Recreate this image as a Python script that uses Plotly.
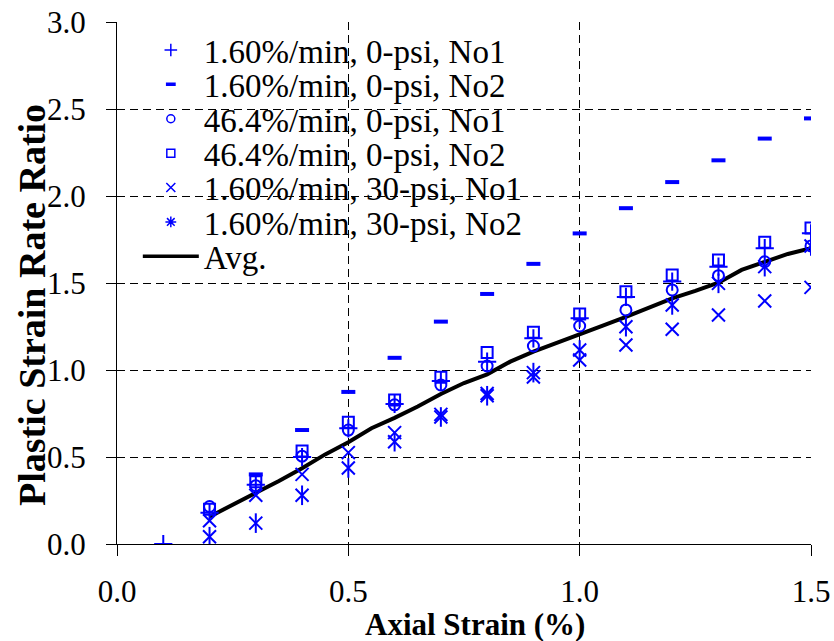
import plotly.graph_objects as go

# ---------------- data ----------------
x_plus = [0.1, 0.2, 0.3, 0.4, 0.5, 0.6, 0.7, 0.8, 0.9, 1.0, 1.1, 1.2, 1.3, 1.4, 1.5]
y_plus = [0.0, 0.18, 0.34, 0.50, 0.665, 0.805, 0.937, 1.048, 1.182, 1.297, 1.42, 1.508, 1.594, 1.70, 1.786]

x_dash = [0.3, 0.4, 0.5, 0.6, 0.7, 0.8, 0.9, 1.0, 1.1, 1.2, 1.3, 1.4, 1.5]
y_dash = [0.40, 0.655, 0.874, 1.07, 1.278, 1.437, 1.61, 1.785, 1.93, 2.08, 2.205, 2.33, 2.446]

x_std = [0.2, 0.3, 0.4, 0.5, 0.6, 0.7, 0.8, 0.9, 1.0, 1.1, 1.2, 1.3, 1.4, 1.5]
y_circle = [0.215, 0.335, 0.505, 0.655, 0.80, 0.914, 1.023, 1.138, 1.253, 1.345, 1.46, 1.542, 1.622, 1.713]
y_square = [0.20, 0.358, 0.534, 0.70, 0.828, 0.958, 1.10, 1.217, 1.322, 1.45, 1.546, 1.632, 1.734, 1.816]
y_x30 = [0.134, 0.28, 0.40, 0.525, 0.64, 0.745, 0.865, 0.96, 1.057, 1.144, 1.234, 1.316, 1.397, 1.475]
y_ast30 = [0.042, 0.12, 0.28, 0.437, 0.588, 0.73, 0.852, 0.985, 1.115, 1.249, 1.374, 1.498, 1.594, 1.713]

x_avg = [0.2, 0.25, 0.3, 0.35, 0.4, 0.45, 0.5, 0.55, 0.6, 0.65, 0.7, 0.75, 0.8, 0.85,
         0.9, 0.95, 1.0, 1.05, 1.1, 1.15, 1.2, 1.25, 1.3, 1.35, 1.4, 1.45, 1.5]
y_avg = [0.157, 0.225, 0.291, 0.362, 0.435, 0.515, 0.585, 0.665, 0.725, 0.79, 0.862, 0.925,
         0.975, 1.048, 1.105, 1.153, 1.205, 1.255, 1.306, 1.36, 1.412, 1.455, 1.502, 1.575,
         1.622, 1.667, 1.70]

names = ["1.60%/min, 0-psi, No1", "1.60%/min, 0-psi, No2", "46.4%/min, 0-psi, No1",
         "46.4%/min, 0-psi, No2", "1.60%/min, 30-psi, No1", "1.60%/min, 30-psi, No2", "Avg."]

x_ticks = [0.0, 0.5, 1.0, 1.5]
x_ticklabels = ["0.0", "0.5", "1.0", "1.5"]
y_ticks = [0.0, 0.5, 1.0, 1.5, 2.0, 2.5, 3.0]
y_ticklabels = ["0.0", "0.5", "1.0", "1.5", "2.0", "2.5", "3.0"]

x_title = "Axial Strain (%)"
y_title = "Plastic Strain Rate Ratio"

BLUE = "#0000FF"
FONT = "Liberation Serif"

fig = go.Figure()

def mk(symbol, size, lw=2):
    return dict(symbol=symbol, size=size, color=BLUE, line=dict(color=BLUE, width=lw))

# data traces (no legend)
fig.add_trace(go.Scatter(x=x_avg, y=y_avg, mode="lines", line=dict(color="black", width=4),
                         showlegend=False, hoverinfo="skip"))
fig.add_trace(go.Scatter(x=x_plus, y=y_plus, mode="markers", marker=mk("cross-thin-open", 13), showlegend=False))
fig.add_trace(go.Scatter(x=x_dash, y=y_dash, mode="markers", marker=mk("line-ew-open", 10, 4), showlegend=False))
fig.add_trace(go.Scatter(x=x_std, y=y_circle, mode="markers", marker=mk("circle-open", 11), showlegend=False))
fig.add_trace(go.Scatter(x=x_std, y=y_square, mode="markers", marker=mk("square-open", 11), showlegend=False))
fig.add_trace(go.Scatter(x=x_std, y=y_x30, mode="markers", marker=mk("x-thin-open", 13), showlegend=False))
fig.add_trace(go.Scatter(x=x_std, y=y_ast30, mode="markers", marker=mk("x-thin-open", 13), showlegend=False))
fig.add_trace(go.Scatter(x=x_std, y=y_ast30, mode="markers", marker=mk("line-ns-open", 14), showlegend=False))

# legend entries, one small legend per row so the row spacing can match
leg_markers = [mk("cross-thin-open", 9, 1.5), mk("line-ew-open", 7, 3.5), mk("circle-open", 8, 1.5),
               mk("square-open", 8, 1.5), mk("x-thin-open", 9, 1.5), mk("asterisk-open", 9, 1.5)]
legend_layouts = {}
plot_top, plot_h = 22, 522
for i, nm in enumerate(names):
    key = "legend" if i == 0 else f"legend{i + 1}"
    if i < 6:
        tr = go.Scatter(x=[None], y=[None], mode="markers", marker=leg_markers[i], name=nm,
                        legend=key)
    else:
        tr = go.Scatter(x=[None], y=[None], mode="lines", line=dict(color="black", width=3.5),
                        name=nm, legend=key)
    fig.add_trace(tr)
    row_px = 50 + 34.4 * i
    legend_layouts[key] = dict(x=0.03, y=1 - (row_px - plot_top) / plot_h, xanchor="left",
                               yanchor="middle", bgcolor="rgba(0,0,0,0)",
                               font=dict(family=FONT, size=33), itemwidth=56, borderwidth=0)

grid = dict(showgrid=True, gridcolor="black", gridwidth=1, griddash="8px,5px", zeroline=False)

fig.update_layout(
    width=834, height=641,
    margin=dict(l=117, r=23, t=22, b=97, autoexpand=False),
    paper_bgcolor="white", plot_bgcolor="white",
    font=dict(family=FONT, color="black", size=30),
    xaxis=dict(range=[0, 1.5], tickvals=x_ticks, ticktext=x_ticklabels, ticks="outside", ticklen=11,
               tickcolor="black", showline=True, linecolor="black", linewidth=1,
               tickfont=dict(size=31), ticklabelstandoff=9, automargin=False, **grid),
    yaxis=dict(range=[0, 3.0], tickvals=y_ticks, ticktext=y_ticklabels, ticks="outside", ticklen=10,
               tickcolor="black", showline=True, linecolor="black", linewidth=1,
               tickfont=dict(size=31), ticklabelstandoff=14, automargin=False, **grid),
    xaxis2=dict(overlaying="x", side="top", anchor="y", range=[0, 1.5], tickvals=x_ticks,
                ticks="inside", ticklen=7, tickcolor="black", showticklabels=False,
                showgrid=False, zeroline=False, showline=False, automargin=False),
    yaxis2=dict(overlaying="y", side="left", anchor="x", range=[0, 3.0], tickvals=y_ticks[1:],
                ticks="inside", ticklen=10, tickcolor="black", showticklabels=False,
                showgrid=False, zeroline=False, showline=False, automargin=False),
    annotations=[
        dict(text=f"<b>{x_title}</b>", xref="paper", yref="paper", x=(475 - 117) / 694,
             y=-(624 - 544) / 522, xanchor="center", yanchor="middle", showarrow=False,
             font=dict(family=FONT, size=31, color="black")),
        dict(text=f"<b>{y_title}</b>", xref="paper", yref="paper", x=-(117 - 32) / 694,
             y=1 - (305 - 22) / 522, xanchor="center", yanchor="middle", showarrow=False,
             textangle=-90, font=dict(family=FONT, size=38, color="black")),
    ],
    **legend_layouts,
)

fig.write_html("out.html")
